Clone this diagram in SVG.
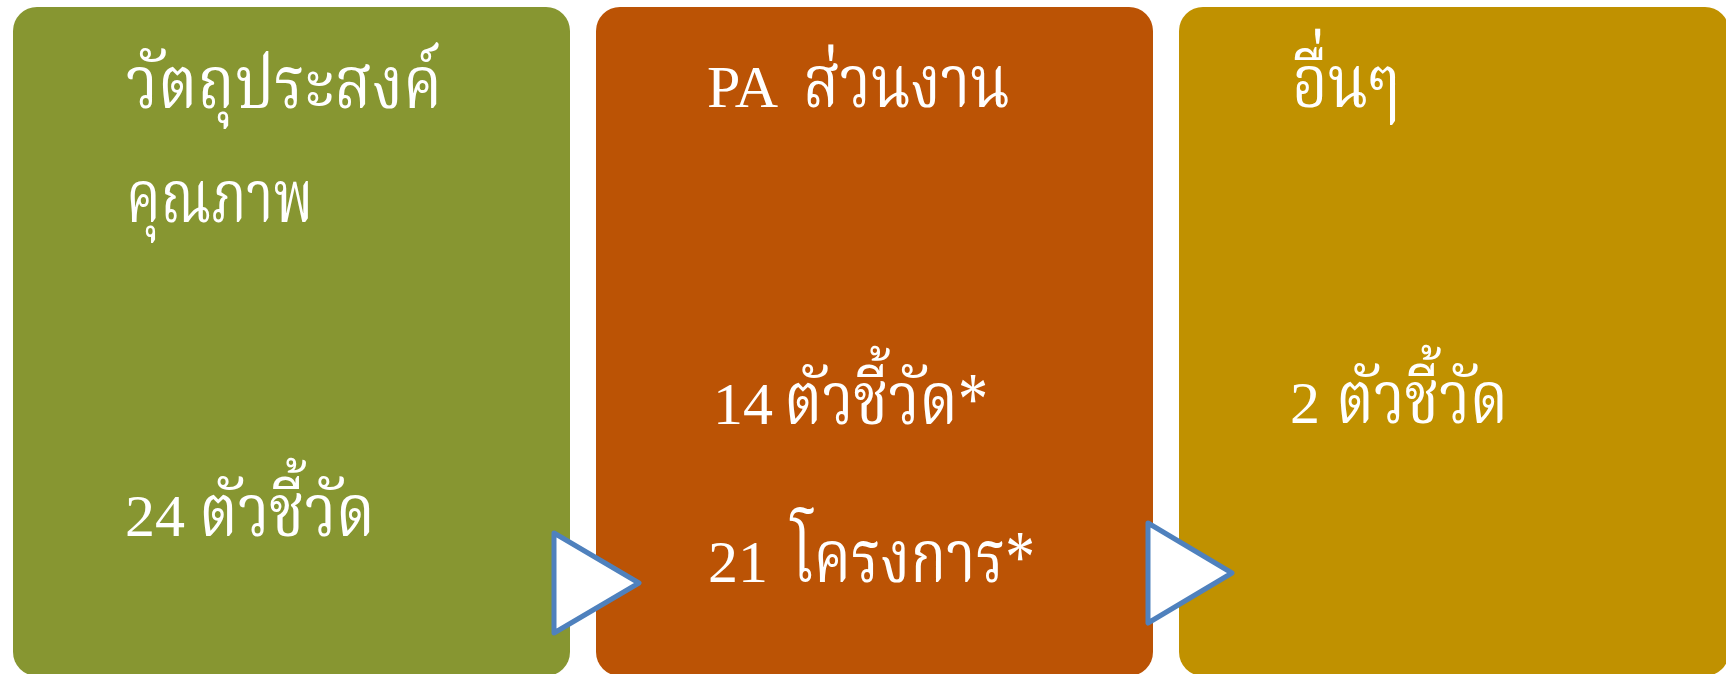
<svg xmlns="http://www.w3.org/2000/svg" width="1726" height="674" viewBox="0 0 1726 674">
<style>
.t{fill:#ffffff;font-family:"Liberation Serif","Noto Serif Thai","Noto Sans Thai","DejaVu Sans",serif;font-size:60px}
.th{font-size:74px}
.box{stroke:none}
.arr{fill:#ffffff;stroke:#4F81BD;stroke-width:5;stroke-linejoin:round}
</style>
<rect width="1726" height="674" fill="#ffffff"/>
<g id="node-objective">
<rect class="box" x="13" y="7" width="557" height="669" rx="24" fill="#879631"/>
<text class="t th" x="126" y="108" textLength="316" lengthAdjust="spacingAndGlyphs">วัตถุประสงค์</text>
<text class="t th" x="126" y="222" textLength="187" lengthAdjust="spacingAndGlyphs">คุณภาพ</text>
<text class="t" x="125" y="536">24</text>
<text class="t th" x="199" y="536" textLength="176" lengthAdjust="spacingAndGlyphs">ตัวชี้วัด</text>
</g>
<g id="node-pa">
<rect class="box" x="596" y="7" width="557" height="669" rx="24" fill="#BB5305"/>
<text class="t" x="707" y="107">PA</text>
<text class="t th" x="803" y="107" textLength="207" lengthAdjust="spacingAndGlyphs">ส่วนงาน</text>
<text class="t" x="713" y="424">14</text>
<text class="t th" x="784" y="424" textLength="204" lengthAdjust="spacingAndGlyphs">ตัวชี้วัด*</text>
<text class="t" x="708" y="582">21</text>
<text class="t th" x="791" y="582" textLength="244" lengthAdjust="spacingAndGlyphs">โครงการ*</text>
</g>
<g id="node-other">
<rect class="box" x="1179" y="7" width="550" height="669" rx="24" fill="#C09100"/>
<text class="t th" x="1292" y="107" textLength="108" lengthAdjust="spacingAndGlyphs">อื่นๆ</text>
<text class="t" x="1290" y="423">2</text>
<text class="t th" x="1336" y="423" textLength="172" lengthAdjust="spacingAndGlyphs">ตัวชี้วัด</text>
</g>
<g id="connectors">
<polygon class="arr" points="554,533 639,583 554,633"/>
<polygon class="arr" points="1148,523 1232,573 1148,623"/>
</g>
</svg>
